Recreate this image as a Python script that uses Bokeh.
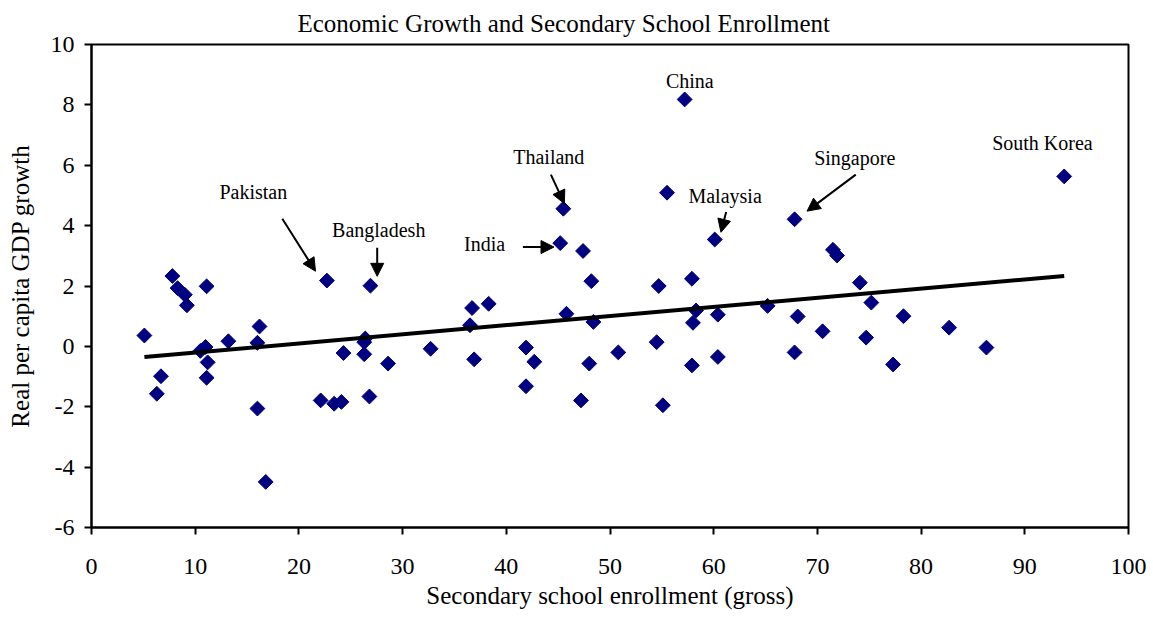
import numpy as np
from bokeh.plotting import figure
from bokeh.models import ColumnDataSource, Arrow, NormalHead, Range1d, FixedTicker
from bokeh.core.properties import value
from bokeh.embed import file_html
from bokeh.resources import INLINE

# enrollment (x) and growth (y) per country
enroll = [5.1, 6.3, 6.7, 7.8, 8.3, 9.0, 9.2, 10.5, 11.0, 11.2, 11.1, 11.1, 13.2, 16.2, 16.0, 16.0, 16.8,
          22.7, 26.9, 22.1, 23.4, 24.1, 24.3, 26.3, 26.4, 26.3, 26.8, 28.6, 32.7,
          36.7, 38.3, 36.5, 36.9, 41.9, 42.7, 41.9, 45.2, 45.5, 47.4, 45.8, 48.2, 48.4, 48.0, 47.2,
          50.8, 55.5, 54.7, 54.5, 55.1, 57.9, 58.3, 58.0, 57.9, 60.1, 60.4, 60.4, 65.2, 57.2,
          67.8, 71.5, 71.9, 74.1, 68.1, 75.2, 78.3, 70.5, 74.7, 82.7, 67.8, 77.3, 86.3, 93.8]
growth = [0.36, -1.57, -0.99, 2.33, 1.93, 1.71, 1.36, -0.15, -0.02, -0.53, -1.04, 1.99, 0.17, 0.66, 0.12, -2.06, -4.49,
          2.18, 2.01, -1.79, -1.90, -1.84, -0.22, 0.14, 0.26, -0.26, -1.66, -0.57, -0.08,
          1.27, 1.41, 0.70, -0.43, -0.04, -0.51, -1.32, 3.42, 4.56, 3.16, 1.08, 2.16, 0.81, -0.57, -1.79,
          -0.20, 5.09, 2.00, 0.14, -1.95, 2.24, 1.19, 0.78, -0.63, 3.54, 1.05, -0.35, 1.34, 8.18,
          4.21, 3.20, 3.01, 2.11, 0.99, 1.45, 1.00, 0.50, 0.29, 0.62, -0.20, -0.60, -0.04, 5.63]

# labels
label_text = ["China", "South Korea", "Thailand", "Singapore", "Malaysia", "India", "Pakistan", "Bangladesh"]
label_x = [57.7, 91.7, 44.1, 73.6, 61.1, 37.9, 15.6, 27.7]
label_y = [8.8, 6.75, 6.26, 6.23, 4.97, 3.38, 5.13, 3.84]

# arrows (Thailand, Singapore, Malaysia, India, Pakistan, Bangladesh)
arr_x0 = [44.3, 73.7, 61.2, 41.6, 18.4, 27.55]
arr_y0 = [5.69, 5.69, 4.45, 3.29, 4.23, 3.27]
arr_x1 = [45.6, 69.0, 60.7, 44.6, 21.6, 27.55]
arr_y1 = [4.73, 4.48, 3.78, 3.29, 2.49, 2.32]

x_ticks = list(range(0, 101, 10))
y_ticks = list(range(-6, 11, 2))

FONT = "Liberation Serif"

p = figure(width=1153, height=625, output_backend="svg", toolbar_location=None,
           x_range=Range1d(0, 100), y_range=Range1d(-6, 10),
           min_border_left=91, min_border_right=25, min_border_top=44, min_border_bottom=98,
           title="Economic Growth and Secondary School Enrollment")
p.background_fill_color = "white"
p.border_fill_color = "white"
p.outline_line_color = "black"
p.outline_line_width = 2
p.grid.visible = False

p.title.text_font = FONT
p.title.text_font_style = "normal"
p.title.text_font_size = "25px"
p.title.align = "left"
p.title.offset = 206
p.title.standoff = 15
p.title.text_color = "black"

for ax in (p.xaxis[0], p.yaxis[0]):
    ax.axis_line_width = 2
    ax.axis_line_color = "black"
    ax.major_tick_line_width = 2
    ax.major_tick_in = 0
    ax.major_tick_out = 7
    ax.minor_tick_line_color = None
    ax.major_label_text_font = FONT
    ax.major_label_text_font_size = "24px"
    ax.major_label_text_color = "black"
    ax.axis_label_text_font = FONT
    ax.axis_label_text_font_style = "normal"
    ax.axis_label_text_font_size = "25px"
    ax.axis_label_text_color = "black"

p.xaxis.ticker = FixedTicker(ticks=x_ticks)
p.yaxis.ticker = FixedTicker(ticks=y_ticks)
p.xaxis.major_label_overrides = {t: str(t) for t in x_ticks}
p.yaxis.major_label_overrides = {t: str(t) for t in y_ticks}
p.xaxis.axis_label = "Secondary school enrollment (gross)"
p.yaxis.axis_label = "Real per capita GDP growth"
p.xaxis.major_label_standoff = 24
p.yaxis.major_label_standoff = 10
p.xaxis.axis_label_standoff = 5
p.yaxis.axis_label_standoff = 14

src = ColumnDataSource(dict(x=enroll, y=growth))
p.scatter("x", "y", source=src, marker="square", size=10.5, angle=np.pi / 4,
          fill_color="#000080", line_color="#000080")

# OLS trend line
xa = np.array(enroll)
ya = np.array(growth)
slope, intercept = np.polyfit(xa, ya, 1)
fx = [xa.min(), xa.max()]
fy = [intercept + slope * v for v in fx]
p.line(fx, fy, line_color="black", line_width=4)

p.text(x=label_x, y=label_y, text=label_text, text_font=value(FONT), text_font_size="20px",
       text_align="center", text_baseline="middle", text_color="black")

for a, b, c, d in zip(arr_x0, arr_y0, arr_x1, arr_y1):
    p.add_layout(Arrow(x_start=a, y_start=b, x_end=c, y_end=d, line_width=2, line_color="black",
                       end=NormalHead(size=13, fill_color="black", line_color="black")))

open("out.html", "w").write(file_html(p, INLINE))
